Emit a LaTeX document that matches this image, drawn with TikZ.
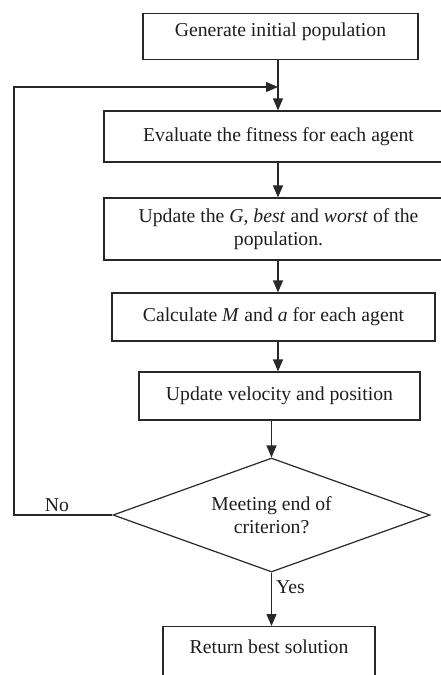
\documentclass[tikz,border=0pt]{standalone}
\usepackage{fontspec}
\setmainfont{Liberation Serif}
\usetikzlibrary{arrows.meta,shapes.geometric}
\definecolor{linec}{RGB}{40,40,40}
\definecolor{textc}{RGB}{30,30,30}
\begin{document}
\begin{tikzpicture}[x=1pt,y=-1pt,
  box/.style={draw=linec, line width=1.2pt, inner sep=0pt, font=\fontsize{19.7}{23.5}\selectfont, text=textc, align=center},
  flow/.style={draw=linec, line width=1.2pt, -{Triangle[width=10pt,length=12pt]}},
  lbl/.style={font=\fontsize{19.7}{23.5}\selectfont, text=textc, inner sep=0pt}]
\useasboundingbox (0,0) rectangle (441,675);
\clip (0,0) rectangle (441,675);
\node[box, minimum width=275pt, text height=22.5pt, text depth=23.5pt, anchor=north] (b1) at (280.5,13) {Generate initial population};
\node[box, minimum width=349pt, minimum height=51pt] (b2) at (278.5,136.5) {Evaluate the fitness for each agent};
\node[box, minimum width=349pt, minimum height=62pt] (b3) at (278.5,229) {Update the \textit{G}, \textit{best} and \textit{worst} of the\\population.};
\node[box, minimum width=323pt, minimum height=48pt] (b4) at (273.5,317) {Calculate \textit{M} and \textit{a} for each agent};
\node[box, minimum width=281pt, minimum height=48pt] (b5) at (279.5,396) {Update velocity and position};
\node[box, shape=diamond, aspect=2.78, minimum width=317pt, minimum height=114pt] (d) at (271.5,515) {Meeting end of\\criterion?};
\node[box, minimum width=212pt, text height=27pt, text depth=47pt, anchor=north] (b6) at (269,626) {Return best solution};
\coordinate (ax) at (278,0);
\coordinate (lp) at (14,87);
\draw[flow] (b1.south -| ax) -- (b2.north -| ax);
\draw[flow] (b2.south -| ax) -- (b3.north -| ax);
\draw[flow] (b3.south -| ax) -- (b4.north -| ax);
\draw[flow] (b4.south -| ax) -- (b5.north -| ax);
\draw[flow] (d.north |- b5.south) -- (d.north);
\draw[flow] (d.south) -- (b6.north -| d.south);
\draw[flow] (d.west) -- (d.west -| lp) -- (lp) -- (lp -| ax);
\node[lbl] (no) at (57,505) {No};
\node[lbl, anchor=west] (yes) at (276,587) {Yes};
\end{tikzpicture}
\end{document}
